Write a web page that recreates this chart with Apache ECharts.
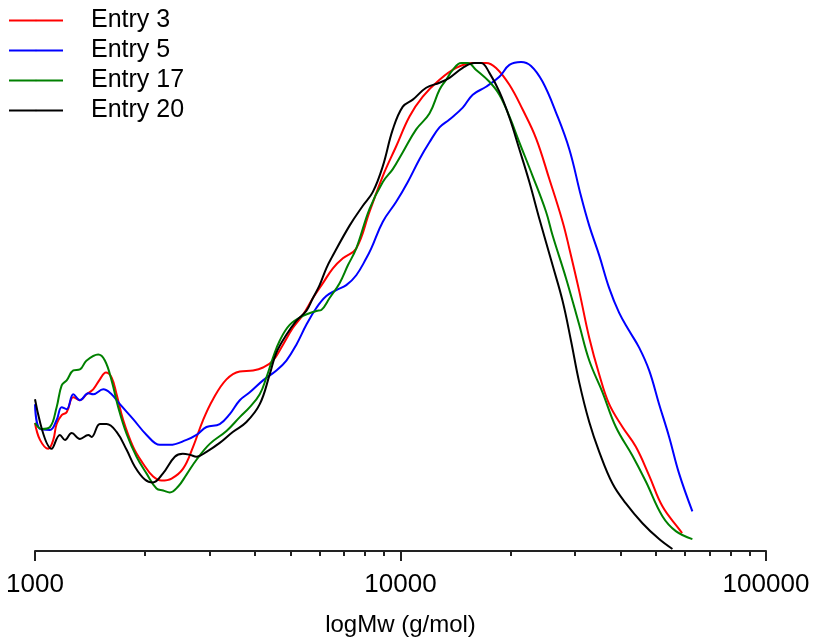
<!DOCTYPE html>
<html>
<head>
<meta charset="utf-8">
<script src="https://cdn.jsdelivr.net/npm/echarts@6/dist/echarts.min.js"></script>
<style>
  html, body { margin: 0; padding: 0; background: #fff; }
  #chart { width: 818px; height: 642px; }
</style>
</head>
<body>
<div id="chart"></div>
<script>
// molecular weight (g/mol) and detector signal (arbitrary units) per entry
const entry3Mw = [1000, 1032, 1087, 1122, 1146, 1183, 1221, 1273, 1327, 1384, 1443, 1505, 1563, 1620, 1672, 1743, 1856, 1976, 2105, 2219, 2364, 2542, 2707, 2883, 3070, 3341, 3633, 3950, 4206, 4479, 4770, 5079, 5408, 5760, 6133, 6532, 6956, 7568, 8229, 8946, 9733, 10583, 11506, 12784, 14199, 15764, 17148, 18260, 19860, 21588, 23488, 25538, 27767, 28963, 30832, 32837, 34970, 37239, 40489, 44051, 47896, 52070, 57850, 58950];
const entry3Signal = [129, 112, 103, 112, 128, 137, 140, 155, 152, 158, 163, 173, 180, 175, 158, 132, 105, 88, 75, 71, 73, 83, 105, 132, 153, 173, 181, 182, 185, 192, 208, 225, 238, 255, 270, 285, 295, 305, 342, 378, 408, 438, 458, 475, 487, 492, 492, 487, 470, 445, 416, 375, 332, 305, 262, 215, 178, 148, 125, 105, 76, 45, 22, 18];

const entry5Mw = [1000, 1032, 1099, 1146, 1183, 1221, 1273, 1327, 1399, 1443, 1537, 1620, 1707, 1856, 2020, 2196, 2338, 2597, 2766, 2946, 3202, 3411, 3633, 3869, 4206, 4576, 4873, 5189, 5525, 5884, 6266, 6673, 7107, 7568, 8060, 8318, 8946, 9733, 10470, 11270, 12001, 12784, 13614, 14801, 15764, 17148, 18643, 19860, 21372, 22761, 24484, 26638, 28963, 31164, 32837, 34970, 37239, 39657, 42232, 44975, 47896, 51000, 54323, 57850, 62888];
const entry5Signal = [148, 123, 122, 132, 145, 143, 158, 152, 159, 158, 163, 158, 148, 133, 117, 107, 107, 112, 117, 125, 128, 138, 152, 160, 172, 182, 192, 208, 228, 245, 257, 263, 268, 278, 295, 305, 332, 352, 372, 395, 412, 427, 435, 447, 460, 468, 478, 490, 493, 489, 473, 442, 405, 358, 328, 298, 265, 240, 222, 205, 182, 148, 115, 78, 40];

const entry17Mw = [1000, 1043, 1099, 1146, 1183, 1221, 1273, 1327, 1384, 1489, 1553, 1620, 1689, 1781, 1896, 2020, 2150, 2242, 2338, 2464, 2597, 2766, 3007, 3341, 3633, 3869, 4120, 4297, 4479, 4672, 4975, 5408, 5884, 6072, 6397, 6813, 7179, 7568, 8229, 8946, 9527, 10146, 11039, 12001, 12784, 13334, 13899, 14653, 15275, 16105, 17508, 18643, 19860, 21145, 22991, 25014, 26074, 28368, 30832, 32837, 35703, 38841, 43119, 46911, 52070, 56662, 62888];
const entry17Signal = [129, 123, 125, 145, 167, 172, 182, 183, 192, 198, 192, 172, 145, 118, 95, 78, 63, 61, 59, 65, 77, 92, 108, 121, 135, 145, 158, 175, 195, 212, 228, 237, 242, 243, 255, 270, 288, 305, 345, 372, 385, 402, 425, 441, 465, 475, 485, 492, 492, 485, 473, 460, 438, 412, 378, 342, 318, 275, 228, 192, 160, 125, 96, 70, 35, 20, 12];

const entry20Mw = [1000, 1111, 1170, 1208, 1260, 1327, 1399, 1428, 1505, 1570, 1672, 1781, 1876, 1998, 2101, 2237, 2413, 2537, 2652, 2766, 2946, 3202, 3476, 3789, 4120, 4387, 4576, 4873, 5189, 5525, 5760, 6007, 6266, 6466, 7256, 7889, 8402, 8946, 9527, 10146, 10805, 11755, 12784, 13614, 14801, 15934, 16617, 17508, 18643, 19860, 21145, 22519, 23981, 26074, 27767, 29274, 30832, 32837, 34970, 38019, 41364, 45918, 51000, 55463];
const entry20Signal = [153, 103, 117, 112, 119, 113, 117, 115, 128, 128, 120, 102, 85, 72, 69, 78, 95, 98, 97, 95, 100, 109, 120, 130, 148, 178, 200, 218, 232, 242, 255, 268, 285, 295, 328, 348, 362, 388, 425, 448, 455, 467, 472, 477, 487, 492, 492, 482, 463, 437, 405, 372, 335, 288, 252, 212, 170, 130, 100, 68, 48, 28, 12, 2];

const minorTickValues = [2000, 3000, 4000, 5000, 6000, 7000, 8000, 9000, 20000, 30000, 40000, 50000, 60000, 70000, 80000, 90000];

const fontFamily = '"Liberation Sans", Arial, sans-serif';

function pairs(xs, ys) {
  return xs.map((x, i) => [x, ys[i]]);
}

function makeSeries(name, color, xs, ys) {
  return {
    name: name,
    type: 'line',
    data: pairs(xs, ys),
    symbol: 'none',
    legendIcon: 'rect',
    smooth: 0.4,
    lineStyle: { color: color, width: 2 },
    itemStyle: { color: color }
  };
}

const chart = echarts.init(document.getElementById('chart'));

const option = {
  animation: false,
  backgroundColor: '#fff',
  grid: { left: 35, right: 52, top: 55, bottom: 87 },
  legend: {
    orient: 'vertical',
    left: 3,
    top: 3,
    itemWidth: 54,
    itemHeight: 2,
    itemGap: 5,
    textStyle: { fontFamily: fontFamily, fontSize: 25, color: '#000', padding: [0, 0, 0, 23] },
    data: ['Entry 3', 'Entry 5', 'Entry 17', 'Entry 20']
  },
  xAxis: [
    {
      type: 'log',
      logBase: 10,
      min: 1000,
      max: 100000,
      name: 'logMw (g/mol)',
      nameLocation: 'middle',
      nameGap: 62,
      nameTextStyle: { fontFamily: fontFamily, fontSize: 24, color: '#000' },
      axisLine: { lineStyle: { color: '#222', width: 2 } },
      axisTick: { length: 10, lineStyle: { color: '#222', width: 2 } },
      axisLabel: {
        margin: 21,
        fontFamily: fontFamily,
        fontSize: 26,
        color: '#000',
        formatter: v => String(Math.round(v))
      },
      splitLine: { show: false }
    },
    {
      type: 'log',
      logBase: 10,
      min: 1000,
      max: 100000,
      position: 'bottom',
      axisLine: { show: false },
      axisTick: { length: 5, customValues: minorTickValues, lineStyle: { color: '#222', width: 2 } },
      axisLabel: { show: false },
      splitLine: { show: false }
    }
  ],
  yAxis: {
    type: 'value',
    min: 0,
    max: 500,
    show: false
  },
  series: [
    makeSeries('Entry 3', '#ff0000', entry3Mw, entry3Signal),
    makeSeries('Entry 5', '#0000ff', entry5Mw, entry5Signal),
    makeSeries('Entry 17', '#008000', entry17Mw, entry17Signal),
    makeSeries('Entry 20', '#000000', entry20Mw, entry20Signal)
  ]
};

chart.setOption(option);
</script>
</body>
</html>
